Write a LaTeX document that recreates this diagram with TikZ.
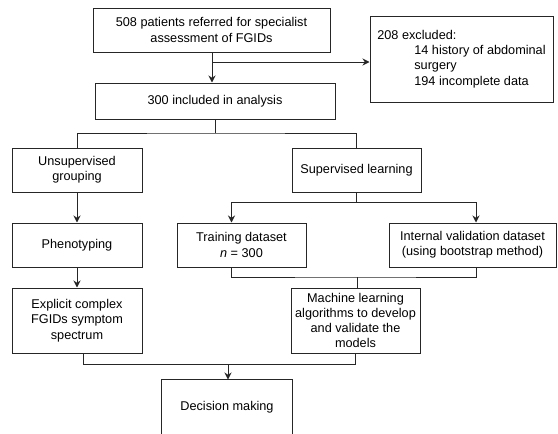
\documentclass[tikz,border=0pt]{standalone}
\usepackage{fontspec}
\setmainfont{Liberation Sans}
\usetikzlibrary{arrows.meta}
\hyphenpenalty=10000
\exhyphenpenalty=10000
\begin{document}
\begin{tikzpicture}[x=1pt,y=-1pt,
  box/.style={draw=black!85,line width=1pt,inner sep=0pt,align=center,font=\fontsize{12.7}{15.3}\selectfont},
  ln/.style={draw=black!85,line width=1pt},
  arr/.style={ln,-{Stealth[length=7pt,width=7pt]}}]
\useasboundingbox[fill=white] (0,0) rectangle (558,434);
% boxes
\node[box,minimum width=237pt,minimum height=44pt] (b1) at (211.5,30) {508 patients referred for specialist\\assessment of FGIDs};
\node[box,align=left,minimum width=183pt,minimum height=86pt] (ex) at (461.5,59) {208 excluded:\\\hspace*{37pt}14 history of abdominal\\\hspace*{37pt}surgery\\\hspace*{37pt}194 incomplete data};
\node[box,minimum width=240pt,minimum height=36pt] (b2) at (215,101) {300 included in analysis};
\node[box,minimum width=130pt,minimum height=44pt] (uns) at (77,170) {Unsupervised\\grouping};
\node[box,minimum width=129pt,minimum height=44pt] (sup) at (356.5,170) {Supervised learning};
\node[box,minimum width=130pt,minimum height=44pt] (phe) at (77,245) {Phenotyping};
\node[box,minimum width=129pt,minimum height=44pt] (tra) at (241.5,245) {Training dataset\\\textit{n} = 300};
\node[box,minimum width=167pt,minimum height=44pt] (int) at (472.5,245) {Internal validation dataset\\(using bootstrap method)};
\node[box,minimum width=130pt,minimum height=65pt] (exp) at (77,320.5) {Explicit complex\\FGIDs symptom\\spectrum};
\node[box,minimum width=129pt,minimum height=65pt] (ml) at (355.5,320.5) {Machine learning\\algorithms to develop\\and validate the\\models};
\node[box,draw=none,minimum width=130pt,minimum height=54pt] (dec) at (227,407) {Decision making};
\draw[ln] (dec.south west) -- (dec.north west) -- (dec.north east) -- (dec.south east);
% connectors
\coordinate (br) at (212,62);
\draw[arr] (b1.south -| br) -- (b2.north -| br);
\draw[arr] (br) -- (br -| ex.west);
\coordinate (j1) at (215,133);
\draw[ln] (b2.south -| j1) -- (j1);
\draw[ln] (uns.north) |- (j1) -| (sup.north);
\draw[arr] (uns) -- (phe);
\draw[arr] (phe) -- (exp);
\coordinate (j2) at (356.5,202);
\draw[ln] (sup.south) -- (j2);
\coordinate (ta) at (231.5,202);
\coordinate (ia) at (476,202);
\draw[ln] (ta) -- (ia);
\draw[arr] (ta) -- (ta |- tra.north);
\draw[arr] (ia) -- (ia |- int.north);
\coordinate (j3) at (357,277);
\draw[ln] (tra.south -| ta) |- (j3) -| (int.south -| ia);
\draw[ln] (j3) -- (ml.north -| j3);
\coordinate (ea) at (83,364);
\coordinate (ma) at (355,364);
\coordinate (j4) at (228,364);
\draw[ln] (exp.south -| ea) -- (ea) -- (ma) -- (ml.south -| ma);
\draw[arr] (j4) -- (dec.north -| j4);
\end{tikzpicture}
\end{document}
